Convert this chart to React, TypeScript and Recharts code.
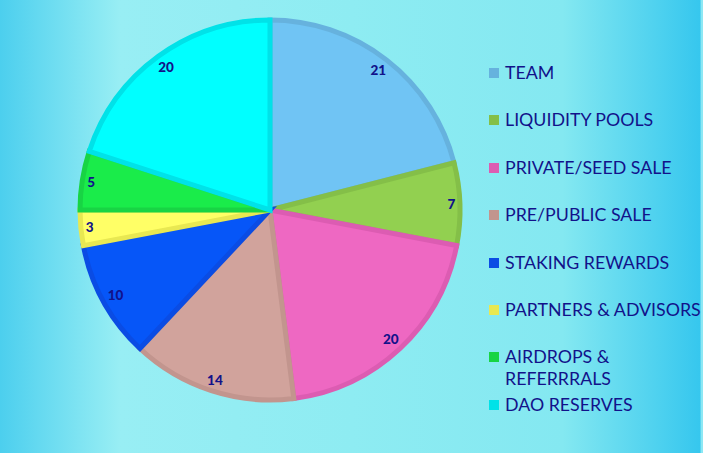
import React from "react";
import { PieChart, Pie, Cell, Legend } from "recharts";

const categories = [
  "TEAM",
  "LIQUIDITY POOLS",
  "PRIVATE/SEED SALE",
  "PRE/PUBLIC SALE",
  "STAKING REWARDS",
  "PARTNERS & ADVISORS",
  "AIRDROPS & REFERRRALS",
  "DAO RESERVES",
];
const values = [21, 7, 20, 14, 10, 3, 5, 20];
const fills = ["#70c4f4", "#92d050", "#ee68c2", "#d1a39c", "#0656f8", "#ffff66", "#1aec4a", "#00ffff"];
const strokes = ["#66b2de", "#84bf48", "#dc5cb2", "#c2958e", "#0a4ce4", "#e8e852", "#18d444", "#00e2e8"];

const data = categories.map((name, i) => ({ name, value: values[i] }));

const FONT = "Lato, 'Open Sans', sans-serif";
const NAVY = "#12128a";
const RAD = Math.PI / 180;

const renderLabel = (props: any) => {
  const { cx, cy, midAngle, value } = props;
  const digits = String(value).length;
  const w = 7.5 * digits + 1;
  const h = 11;
  const c = Math.cos(midAngle * RAD);
  const s = Math.sin(midAngle * RAD);
  const half = (w / 2) * Math.abs(c) + (h / 2) * Math.abs(s);
  const r = 186 - half;
  const x = cx + r * c;
  const y = cy - r * s;
  return (
    <text
      x={x}
      y={y}
      fill={NAVY}
      textAnchor="middle"
      dominantBaseline="central"
      fontFamily={FONT}
      fontWeight={900}
      fontSize={13.5}
    >
      {value}
    </text>
  );
};

const renderLegend = () => (
  <div style={{ fontFamily: FONT, color: NAVY, fontSize: 17.8 }}>
    {categories.map((name, i) => (
      <div key={name} style={{ height: 47.4, display: "flex", alignItems: "flex-start" }}>
        <div
          style={{
            width: 10,
            height: 10,
            background: strokes[i],
            marginTop: 7,
            marginRight: 6,
            flex: "none",
          }}
        />
        <div style={{ lineHeight: "22px", width: 200 }}>{name}</div>
      </div>
    ))}
  </div>
);

export default function App() {
  return (
    <div
      style={{
        position: "absolute",
        left: 0,
        top: 0,
        width: 703,
        height: 453,
        overflow: "hidden",
        background:
          "linear-gradient(to right, #4ccfee 0%, #98eef4 17%, #8eecf2 50%, #84e8f1 80%, #36c7ee 99.6%, #8ce8f4 99.7%, #8ce8f4 100%)",
      }}
    >
      <PieChart width={703} height={453} margin={{ top: 0, right: 0, bottom: 0, left: 0 }}>
        <Pie
          data={data}
          dataKey="value"
          nameKey="name"
          cx={270}
          cy={210}
          outerRadius={190}
          startAngle={90}
          endAngle={-270}
          isAnimationActive={false}
          label={renderLabel}
          labelLine={false}
          strokeWidth={5}
        >
          {data.map((d, i) => (
            <Cell key={d.name} fill={fills[i]} stroke={strokes[i]} />
          ))}
        </Pie>
        <Legend
          content={renderLegend}
          layout="vertical"
          wrapperStyle={{ position: "absolute", left: 489, top: 61, width: 214 }}
        />
      </PieChart>
    </div>
  );
}
